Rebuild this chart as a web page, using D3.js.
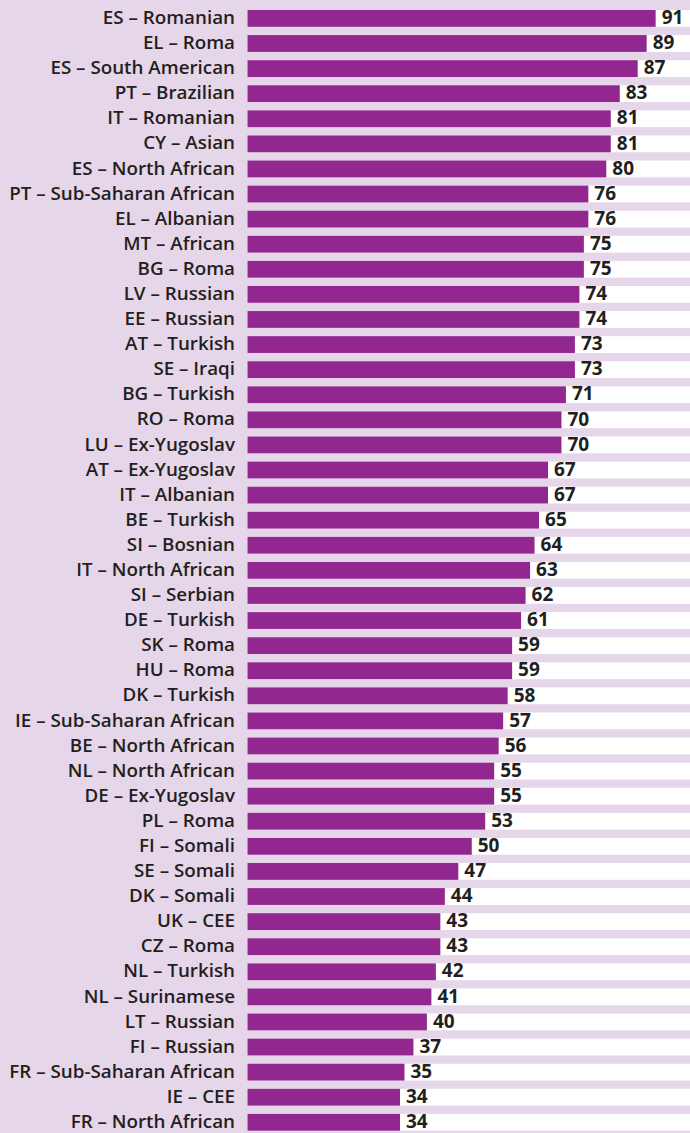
<!DOCTYPE html>
<html>
<head>
<meta charset="utf-8">
<script src="https://cdn.jsdelivr.net/npm/d3@7"></script>
<style>
  html, body { margin: 0; padding: 0; background: #e6d6ea; }
  svg { display: block; }
  .cat { font-family: "Open Sans", sans-serif; font-weight: 600; font-size: 18.8px; fill: #231f20; }
  .val { font-family: "Open Sans", sans-serif; font-weight: 700; font-size: 19px; fill: #231f20; }
</style>
</head>
<body>
<script>
const groups = [
  'ES – Romanian', 'EL – Roma', 'ES – South American', 'PT – Brazilian', 'IT – Romanian',
  'CY – Asian', 'ES – North African', 'PT – Sub-Saharan African', 'EL – Albanian', 'MT – African',
  'BG – Roma', 'LV – Russian', 'EE – Russian', 'AT – Turkish', 'SE – Iraqi',
  'BG – Turkish', 'RO – Roma', 'LU – Ex-Yugoslav', 'AT – Ex-Yugoslav', 'IT – Albanian',
  'BE – Turkish', 'SI – Bosnian', 'IT – North African', 'SI – Serbian', 'DE – Turkish',
  'SK – Roma', 'HU – Roma', 'DK – Turkish', 'IE – Sub-Saharan African', 'BE – North African',
  'NL – North African', 'DE – Ex-Yugoslav', 'PL – Roma', 'FI – Somali', 'SE – Somali',
  'DK – Somali', 'UK – CEE', 'CZ – Roma', 'NL – Turkish', 'NL – Surinamese',
  'LT – Russian', 'FI – Russian', 'FR – Sub-Saharan African', 'IE – CEE', 'FR – North African'
];
const values = [
  91, 89, 87, 83, 81,
  81, 80, 76, 76, 75,
  75, 74, 74, 73, 73,
  71, 70, 70, 67, 67,
  65, 64, 63, 62, 61,
  59, 59, 58, 57, 56,
  55, 55, 53, 50, 47,
  44, 43, 43, 42, 41,
  40, 37, 35, 34, 34
];

const width = 690, height = 1133;
const barLeft = 247.5;

const svg = d3.select('body').append('svg')
  .attr('width', width)
  .attr('height', height);

svg.append('rect')
  .attr('width', width).attr('height', height)
  .attr('fill', '#e6d6ea');

const x = d3.scaleLinear().domain([0, 100]).range([barLeft, 696]);
const y = d3.scaleBand()
  .domain(groups)
  .range([1.72, 1139])
  .paddingInner(0.33)
  .paddingOuter(0.33);

const rows = svg.selectAll('g.row')
  .data(groups.map((g, i) => ({ name: g, value: values[i] })))
  .join('g')
    .attr('class', 'row')
    .attr('transform', d => `translate(0, ${y(d.name)})`);

// white band behind each bar
rows.append('rect')
  .attr('x', barLeft)
  .attr('width', width - barLeft)
  .attr('height', y.bandwidth())
  .attr('fill', '#ffffff');

rows.append('rect')
  .attr('x', x(0))
  .attr('width', d => x(d.value) - x(0))
  .attr('height', y.bandwidth())
  .attr('fill', '#92278f');

rows.append('text')
  .attr('class', 'cat')
  .attr('x', 235)
  .attr('y', y.bandwidth() / 2)
  .attr('dy', '0.3em')
  .attr('text-anchor', 'end')
  .text(d => d.name);

rows.append('text')
  .attr('class', 'val')
  .attr('x', d => x(d.value) + 6)
  .attr('y', y.bandwidth() / 2)
  .attr('dy', '0.3em')
  .text(d => d.value);
</script>
</body>
</html>
